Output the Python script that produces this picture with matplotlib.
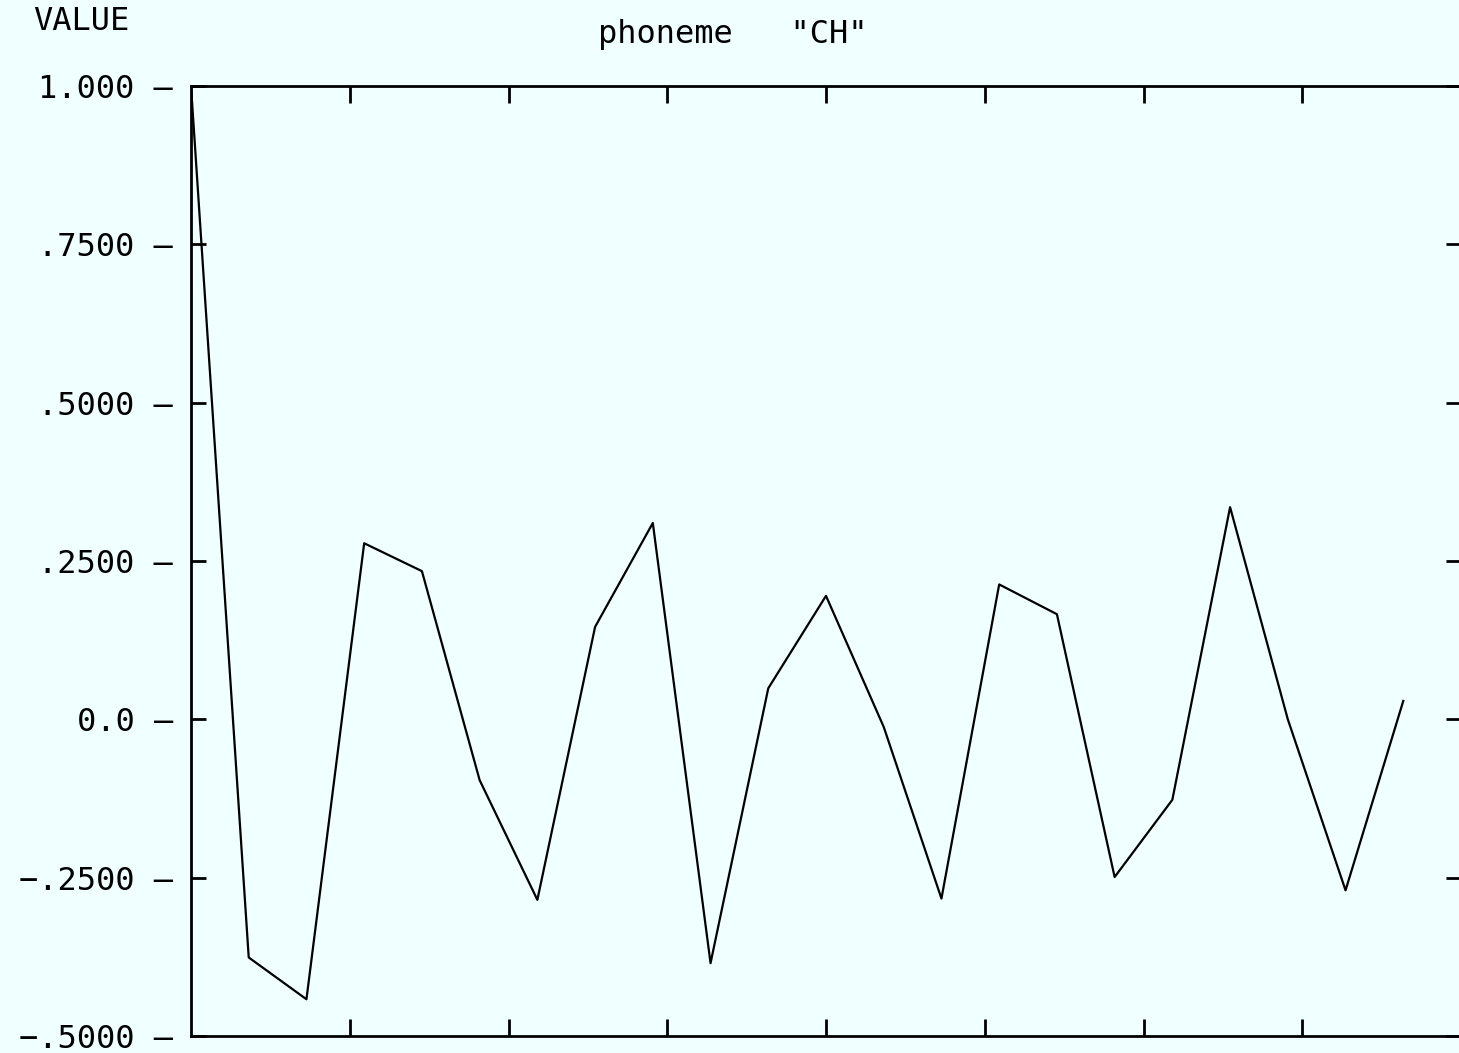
import numpy as np
from matplotlib import pyplot as plt

# autocorrelation-like values
lags = np.arange(22)
values = [1.0, -0.376, -0.442, 0.278, 0.234, -0.096, -0.285, 0.146, 0.310, -0.385, 0.049,
          0.195, -0.012, -0.283, 0.213, 0.166, -0.249, -0.127, 0.335, 0.0, -0.270, 0.029]
y_ticks = [1.0, 0.75, 0.5, 0.25, 0.0, -0.25, -0.5]
y_tick_labels = ["1.000", ".7500", ".5000", ".2500", "0.0", "\u2212.2500", "\u2212.5000"]
x_ticks = [2.75 * k for k in range(1, 8)]

bg = "#f0ffff"
mono = "DejaVu Sans Mono"

fig = plt.figure(figsize=(14.59, 10.53), dpi=100, facecolor=bg)
ax = fig.add_axes([191 / 1459, 1 - 1036 / 1053, 1270 / 1459, 950 / 1053], facecolor=bg)

ax.plot(lags, values, color="black", linewidth=1.6)

ax.set_xlim(0, 22)
ax.set_ylim(-0.5, 1.0)

ax.set_yticks(y_ticks)
ax.set_yticklabels([f"{s} \u2013" for s in y_tick_labels], fontfamily=mono, fontsize=23)
ax.set_xticks(x_ticks)
ax.set_xticklabels([])

ax.tick_params(axis="y", direction="in", length=11, width=2, pad=13,
               left=True, right=True)
ax.tick_params(axis="x", direction="in", length=12, width=2,
               top=True, bottom=True)

for side in ["left", "top", "bottom", "right"]:
    ax.spines[side].set_linewidth(2)

fig.text(33 / 1459, 1 - 21 / 1053, "VALUE", fontfamily=mono, fontsize=23,
         ha="left", va="center")
fig.text(733 / 1459, 1 - 35 / 1053, 'phoneme   "CH"', fontfamily=mono, fontsize=23,
         ha="center", va="center")

fig.savefig("out.png", dpi=100, facecolor=bg)
